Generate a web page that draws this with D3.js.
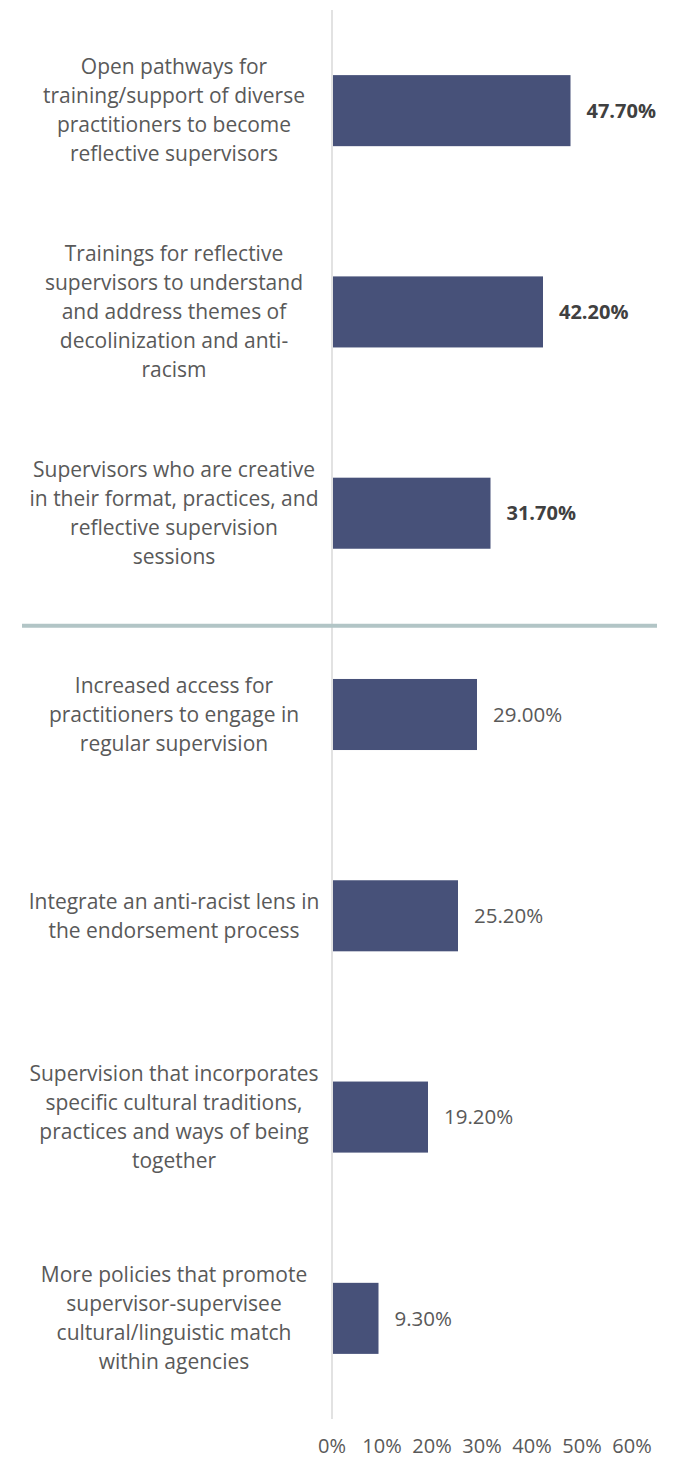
<!DOCTYPE html>
<html><head><meta charset="utf-8">
<script src="https://cdn.jsdelivr.net/npm/d3@7"></script>
<style>body{margin:0;background:#fff;}svg{display:block;}</style>
</head><body>
<svg id="c" width="673" height="1459"></svg>
<script>
const categories = [
  "Open pathways for training/support of diverse practitioners to become reflective supervisors",
  "Trainings for reflective supervisors to understand and address themes of decolinization and anti-racism",
  "Supervisors who are creative in their format, practices, and reflective supervision sessions",
  "Increased access for practitioners to engage in regular supervision",
  "Integrate an anti-racist lens in the endorsement process",
  "Supervision that incorporates specific cultural traditions, practices and ways of being together",
  "More policies that promote supervisor-supervisee cultural/linguistic match within agencies"
];
const labelLines = [
  ["Open pathways for","training/support of diverse","practitioners to become","reflective supervisors"],
  ["Trainings for reflective","supervisors to understand","and address themes of","decolinization and anti-","racism"],
  ["Supervisors who are creative","in their format, practices, and","reflective supervision","sessions"],
  ["Increased access for","practitioners to engage in","regular supervision"],
  ["Integrate an anti-racist lens in","the endorsement process"],
  ["Supervision that incorporates","specific cultural traditions,","practices and ways of being","together"],
  ["More policies that promote","supervisor-supervisee","cultural/linguistic match","within agencies"]
];
const values = [47.7, 42.2, 31.7, 29.0, 25.2, 19.2, 9.3];
const highlighted = [true, true, true, false, false, false, false];
const tickValues = [0, 10, 20, 30, 40, 50, 60];

const font = "'Open Sans', 'Noto Sans', sans-serif";
const svg = d3.select("#c");
const x = d3.scaleLinear().domain([0, 60]).range([332, 632]);
const y = d3.scaleBand().domain(categories).range([10, 1419]).paddingInner(0.647).paddingOuter(0.3235);

// axis line
svg.append("line").attr("x1", x(0)).attr("x2", x(0)).attr("y1", 10).attr("y2", 1419)
  .attr("stroke", "#d9d9d9").attr("stroke-width", 1.5);

// bars
svg.selectAll("rect.bar").data(categories).join("rect")
  .attr("class", "bar")
  .attr("x", x(0) + 1)
  .attr("y", d => y(d))
  .attr("width", (d, i) => x(values[i]) - x(0) - 1)
  .attr("height", y.bandwidth())
  .attr("fill", "#475179");

// separator line
const sepY = y(categories[3]) - (y.step() - y.bandwidth()) / 2 + 12;
svg.append("line").attr("x1", 22).attr("x2", 657).attr("y1", sepY).attr("y2", sepY)
  .attr("stroke", "#b2c5c6").attr("stroke-width", 4);

// value labels
svg.selectAll("text.val").data(categories).join("text")
  .attr("class", "val")
  .attr("x", (d, i) => x(values[i]) + 16)
  .attr("y", d => y(d) + y.bandwidth() / 2)
  .attr("dy", "0.35em")
  .attr("font-family", font)
  .attr("font-size", (d, i) => highlighted[i] ? 20 : 20.5)
  .attr("font-weight", (d, i) => highlighted[i] ? 700 : 400)
  .attr("fill", (d, i) => highlighted[i] ? "#404040" : "#595959")
  .text((d, i) => values[i].toFixed(2) + "%");

// category labels
const lh = 29;
categories.forEach((c, i) => {
  const lines = labelLines[i];
  const cy = y(c) + y.bandwidth() / 2;
  const t = svg.append("text")
    .attr("text-anchor", "middle")
    .attr("font-family", font)
    .attr("font-size", 21)
    .attr("fill", "#595959");
  lines.forEach((ln, j) => {
    t.append("tspan").attr("x", 174)
      .attr("y", cy + (j - (lines.length - 1) / 2) * lh)
      .attr("dy", "0.35em")
      .text(ln);
  });
});

// tick labels
svg.selectAll("text.tick").data(tickValues).join("text")
  .attr("class", "tick")
  .attr("x", d => x(d))
  .attr("y", 1453)
  .attr("text-anchor", "middle")
  .attr("font-family", font)
  .attr("font-size", 20)
  .attr("fill", "#595959")
  .text(d => d + "%");
</script>
</body></html>
